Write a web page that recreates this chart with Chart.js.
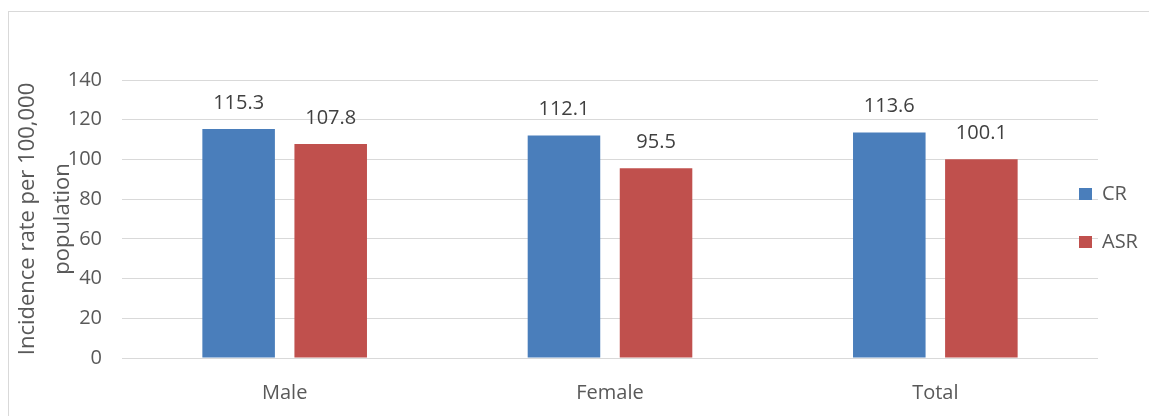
<!DOCTYPE html>
<html>
<head>
<meta charset="utf-8">
<script src="https://cdn.jsdelivr.net/npm/chart.js@4.4.1/dist/chart.umd.min.js"></script>
<style>
  html, body { margin: 0; padding: 0; background: #fff; overflow: hidden; }
  #box {
    position: absolute; left: 8px; top: 11px; width: 1160px; height: 420px;
    border-left: 1px solid #d9d9d9; border-top: 1px solid #d9d9d9;
  }
  #wrap { position: absolute; left: 9px; top: 12px; width: 1140px; height: 404px; }
</style>
</head>
<body>
<div id="box"></div>
<div id="wrap"><canvas id="chart"></canvas></div>
<script>
// data
const categories  = ['Male', 'Female', 'Total'];
const crValues    = [115.3, 112.1, 113.6];
const asrValues   = [107.8, 95.5, 100.1];
const seriesNames = ['CR', 'ASR'];
const yTitle      = ['Incidence rate per 100,000', 'population'];

const COLORS = { cr: '#4a7ebb', asr: '#c0504d', grid: '#d9d9d9', text: '#595959' };
const FONT = "'Open Sans', 'Noto Sans', sans-serif";

// value labels above each bar
const barLabels = {
  id: 'barLabels',
  afterDatasetsDraw(chart) {
    const ctx = chart.ctx;
    ctx.save();
    ctx.font = '20px ' + FONT;
    ctx.fillStyle = '#404040';
    ctx.textAlign = 'center';
    ctx.textBaseline = 'alphabetic';
    chart.data.datasets.forEach((ds, i) => {
      chart.getDatasetMeta(i).data.forEach((bar, j) => {
        ctx.fillText(ds.data[j].toFixed(1), bar.x, bar.y - 20);
      });
    });
    ctx.restore();
  }
};

// Excel-style legend: narrow box that sits partly over the plot area
const legendPlace = {
  id: 'legendPlace',
  afterInit(chart) {
    const lg = chart.legend;
    const fit = lg.fit;
    lg.fit = function () { fit.call(this); this.width = 51; };
  },
  afterLayout(chart) {
    const lg = chart.legend;
    lg.left = chart.chartArea.right - 47;
    lg.right = chart.width;
    lg.top -= 30;
    lg.bottom -= 30;
  }
};

new Chart(document.getElementById('chart'), {
  type: 'bar',
  data: {
    labels: categories,
    datasets: [
      { label: seriesNames[0], data: crValues,  backgroundColor: COLORS.cr },
      { label: seriesNames[1], data: asrValues, backgroundColor: COLORS.asr },
    ],
  },
  options: {
    responsive: true,
    maintainAspectRatio: false,
    animation: false,
    categoryPercentage: 0.566,
    barPercentage: 0.788,
    layout: { padding: { top: 68, right: 0, bottom: 0, left: 0 } },
    plugins: {
      tooltip: { enabled: false },
      legend: {
        position: 'right',
        align: 'center',
        labels: {
          boxWidth: 13, boxHeight: 12, padding: 28,
          color: COLORS.text,
          font: { size: 20, family: FONT },
        },
      },
    },
    scales: {
      x: {
        grid: { display: false },
        border: { display: false },
        ticks: { color: COLORS.text, font: { size: 20, family: FONT }, padding: 15 },
        afterFit(scale) { scale.height = 58; },
      },
      y: {
        min: 0, max: 140,
        ticks: { stepSize: 20, color: COLORS.text, font: { size: 20, family: FONT }, padding: 20 },
        grid: { color: COLORS.grid, drawTicks: false },
        border: { display: false },
        title: {
          display: true, text: yTitle,
          color: COLORS.text,
          font: { size: 22, family: FONT, lineHeight: '35px' },
          padding: { top: 1, bottom: 0 },
        },
        afterFit(scale) { scale.width = 113; },
      },
    },
  },
  plugins: [barLabels, legendPlace],
});
</script>
</body>
</html>
